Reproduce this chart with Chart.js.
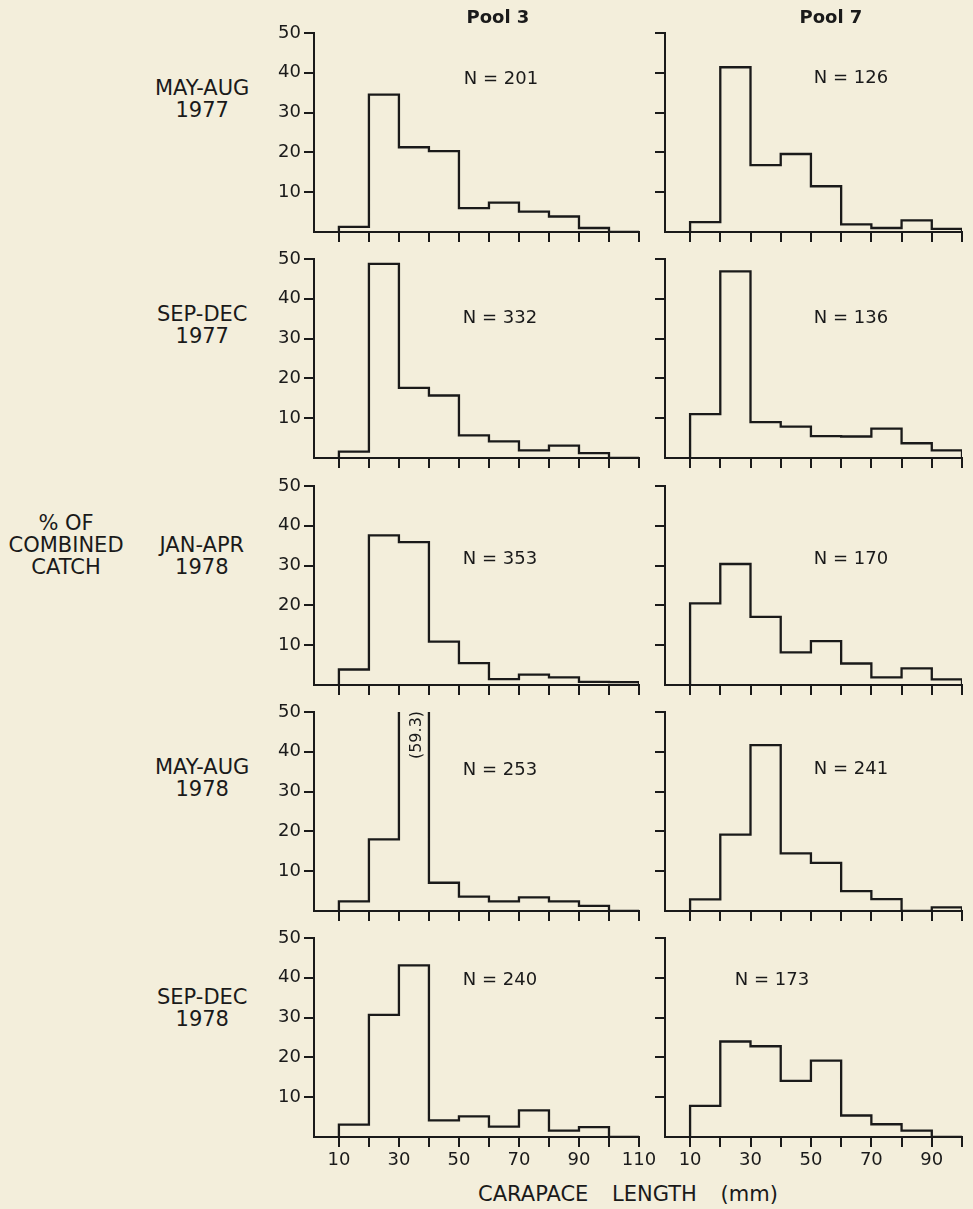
<!DOCTYPE html>
<html>
<head>
<meta charset="utf-8">
<title>Carapace length frequency, Pool 3 and Pool 7</title>
<script src="https://cdn.jsdelivr.net/npm/chart.js@4/dist/chart.umd.min.js"></script>
<style>
  html, body { margin: 0; padding: 0; background: #f3eedb; }
  #fig { position: relative; width: 973px; height: 1209px; overflow: hidden;
         font-family: "DejaVu Sans", "Liberation Sans", sans-serif; color: #1a1a1a; }
  #fig canvas { position: absolute; }
  .lbl { position: absolute; white-space: nowrap; text-align: center; line-height: 22px; }
</style>
</head>
<body>
<div id="fig"></div>
<script>
// ---- data: percent of combined catch per 10 mm carapace-length class ----
const poolNames = ['Pool 3', 'Pool 7'];
const periodNames = ['MAY-AUG', 'SEP-DEC', 'JAN-APR', 'MAY-AUG', 'SEP-DEC'];
const periodYears = ['1977', '1977', '1978', '1978', '1978'];

const binStartsPool3 = [10, 20, 30, 40, 50, 60, 70, 80, 90, 100];
const binStartsPool7 = [10, 20, 30, 40, 50, 60, 70, 80, 90];
const binWidth = 10;

const pool3MayAug1977 = [1.3, 34.5, 21.3, 20.3, 6.0, 7.4, 5.1, 3.9, 1.0, 0];
const pool3SepDec1977 = [1.6, 48.8, 17.6, 15.7, 5.7, 4.2, 1.9, 3.1, 1.2, 0];
const pool3JanApr1978 = [3.9, 37.6, 35.9, 10.9, 5.5, 1.5, 2.6, 1.9, 0.8, 0.7];
const pool3MayAug1978 = [2.4, 18.0, 59.3, 7.1, 3.6, 2.4, 3.4, 2.4, 1.3, 0];
const pool3SepDec1978 = [3.1, 30.7, 43.1, 4.2, 5.2, 2.6, 6.7, 1.6, 2.5, 0];

const pool7MayAug1977 = [2.5, 41.4, 16.8, 19.6, 11.5, 1.9, 1.0, 2.9, 0.8];
const pool7SepDec1977 = [11.0, 46.9, 9.0, 7.9, 5.5, 5.4, 7.4, 3.7, 1.9];
const pool7JanApr1978 = [20.5, 30.4, 17.1, 8.2, 11.0, 5.4, 1.9, 4.2, 1.4];
const pool7MayAug1978 = [2.9, 19.2, 41.7, 14.5, 12.1, 5.0, 3.0, 0, 0.9];
const pool7SepDec1978 = [7.8, 24.0, 22.8, 14.1, 19.2, 5.4, 3.2, 1.6, 0];

const pool3N = [201, 332, 353, 253, 240];
const pool7N = [126, 136, 170, 241, 173];

const yTickValues = [10, 20, 30, 40, 50];
const xTickValuesPool3 = [10, 20, 30, 40, 50, 60, 70, 80, 90, 100, 110];
const xTickValuesPool7 = [10, 20, 30, 40, 50, 60, 70, 80, 90, 100];
const xLabelValues = [10, 30, 50, 70, 90, 110];

const pool3Series = [pool3MayAug1977, pool3SepDec1977, pool3JanApr1978, pool3MayAug1978, pool3SepDec1978];
const pool7Series = [pool7MayAug1977, pool7SepDec1977, pool7JanApr1978, pool7MayAug1978, pool7SepDec1978];

// ---- layout ----
const INK = '#1a1a1a';
const FONT = '"DejaVu Sans", "Liberation Sans", sans-serif';
const rowTops = [33, 259, 486, 712, 938];
const plotHeight = 199;
const colLefts = [314, 665];
const colWidths = [325, 297];
const xMin = 1.7;
const nLabelOffsets = [
  [[187, 46], [186, 45]],
  [[186, 59], [186, 59]],
  [[186, 73], [186, 73]],
  [[186, 58], [186, 57]],
  [[186, 42], [107, 42]]
];

const fig = document.getElementById('fig');

// outline of a histogram: rise at the first class edge, step across each class, fall at the last edge
function outlinePoints(starts, values) {
  const pts = [{ x: starts[0], y: 0 }];
  starts.forEach((s, i) => pts.push({ x: s, y: values[i] }));
  pts.push({ x: starts[starts.length - 1] + binWidth, y: 0 });
  return pts;
}

function panelTextPlugin(n, offset, starts, values) {
  return {
    id: 'panelText',
    afterDatasetsDraw(chart) {
      const { ctx, chartArea, scales } = chart;
      ctx.save();
      ctx.fillStyle = INK;
      ctx.textAlign = 'center';
      ctx.textBaseline = 'middle';
      ctx.font = '18px ' + FONT;
      ctx.fillText('N = ' + n, chartArea.left + offset[0], chartArea.top + offset[1]);
      // classes taller than the axis get their value written up inside the bar
      starts.forEach((s, i) => {
        const v = values[i];
        if (v > scales.y.max) {
          const x = scales.x.getPixelForValue(s + binWidth / 2) + 3;
          ctx.save();
          ctx.translate(x, chartArea.top + 23);
          ctx.rotate(-Math.PI / 2);
          ctx.font = '16px ' + FONT;
          ctx.fillText('(' + v.toFixed(1) + ')', 0, 0);
          ctx.restore();
        }
      });
      ctx.restore();
    }
  };
}

function buildPanel(row, col) {
  const isBottom = row === rowTops.length - 1;
  const starts = col === 0 ? binStartsPool3 : binStartsPool7;
  const values = (col === 0 ? pool3Series : pool7Series)[row];
  const n = (col === 0 ? pool3N : pool7N)[row];
  const xTicks = col === 0 ? xTickValuesPool3 : xTickValuesPool7;
  const xMax = xTicks[xTicks.length - 1];

  const axisW = 54, padTop = 14, padRight = 26, axisH = isBottom ? 44 : 14;
  const w = axisW + colWidths[col] + padRight;
  const h = padTop + plotHeight + axisH;
  const canvas = document.createElement('canvas');
  canvas.width = w; canvas.height = h;
  canvas.style.width = w + 'px'; canvas.style.height = h + 'px';
  fig.appendChild(canvas);

  const tickFont = { family: FONT, size: 18 };
  const chart = new Chart(canvas, {
    type: 'line',
    data: {
      datasets: [{
        data: outlinePoints(starts, values),
        stepped: 'before',
        borderColor: INK,
        borderWidth: 2.3,
        borderJoinStyle: 'miter',
        pointRadius: 0,
        fill: false,
        tension: 0
      }]
    },
    options: {
      responsive: false,
      animation: false,
      devicePixelRatio: 1,
      events: [],
      layout: { padding: { top: padTop, right: padRight, left: 0, bottom: 0 } },
      plugins: { legend: { display: false }, tooltip: { enabled: false } },
      scales: {
        x: {
          type: 'linear',
          min: xMin,
          max: xMax,
          afterBuildTicks: s => { s.ticks = xTicks.map(v => ({ value: v })); },
          afterFit: s => { s.height = axisH; },
          border: { display: true, color: INK, width: 2 },
          grid: { display: true, drawOnChartArea: false, drawTicks: true, tickLength: 10, color: INK, lineWidth: 2 },
          ticks: {
            display: isBottom,
            autoSkip: false,
            maxRotation: 0,
            padding: 3,
            color: INK,
            font: tickFont,
            callback: v => (xLabelValues.includes(v) ? String(v) : '')
          }
        },
        y: {
          type: 'linear',
          min: 0,
          max: 50,
          afterBuildTicks: s => { s.ticks = yTickValues.map(v => ({ value: v })); },
          afterFit: s => { s.width = axisW; },
          border: { display: true, color: INK, width: 2 },
          grid: { display: true, drawOnChartArea: false, drawTicks: true, tickLength: 10, color: INK, lineWidth: 2 },
          ticks: { display: col === 0, padding: 3, color: INK, font: tickFont }
        }
      }
    },
    plugins: [panelTextPlugin(n, nLabelOffsets[row][col], starts, values)]
  });

  const ca = chart.chartArea;
  canvas.style.left = (colLefts[col] - ca.left) + 'px';
  canvas.style.top = (rowTops[row] - ca.top) + 'px';
}

for (let r = 0; r < rowTops.length; r++) {
  buildPanel(r, 0);
  buildPanel(r, 1);
}

// ---- text around the panels ----
function addLabel(html, cx, top, size, extra) {
  const d = document.createElement('div');
  d.className = 'lbl';
  d.innerHTML = html;
  d.style.fontSize = size + 'px';
  d.style.top = top + 'px';
  d.style.left = '0px';
  Object.assign(d.style, extra || {});
  fig.appendChild(d);
  d.style.left = (cx - d.offsetWidth / 2) + 'px';
  return d;
}

addLabel(poolNames[0], 498, 6, 18, { fontWeight: 'bold' });
addLabel(poolNames[1], 831, 6, 18, { fontWeight: 'bold' });

const rowLabelShift = [44, 44, 48, 44, 48];
for (let r = 0; r < rowTops.length; r++) {
  addLabel(periodNames[r] + '<br>' + periodYears[r], 202, rowTops[r] + rowLabelShift[r], 21);
}

addLabel('% OF<br>COMBINED<br>CATCH', 66, 512, 21);

const xt = addLabel('CARAPACE LENGTH (mm)', 0, 1183, 21, { wordSpacing: '17px' });
xt.style.left = '478px';
</script>
</body>
</html>
